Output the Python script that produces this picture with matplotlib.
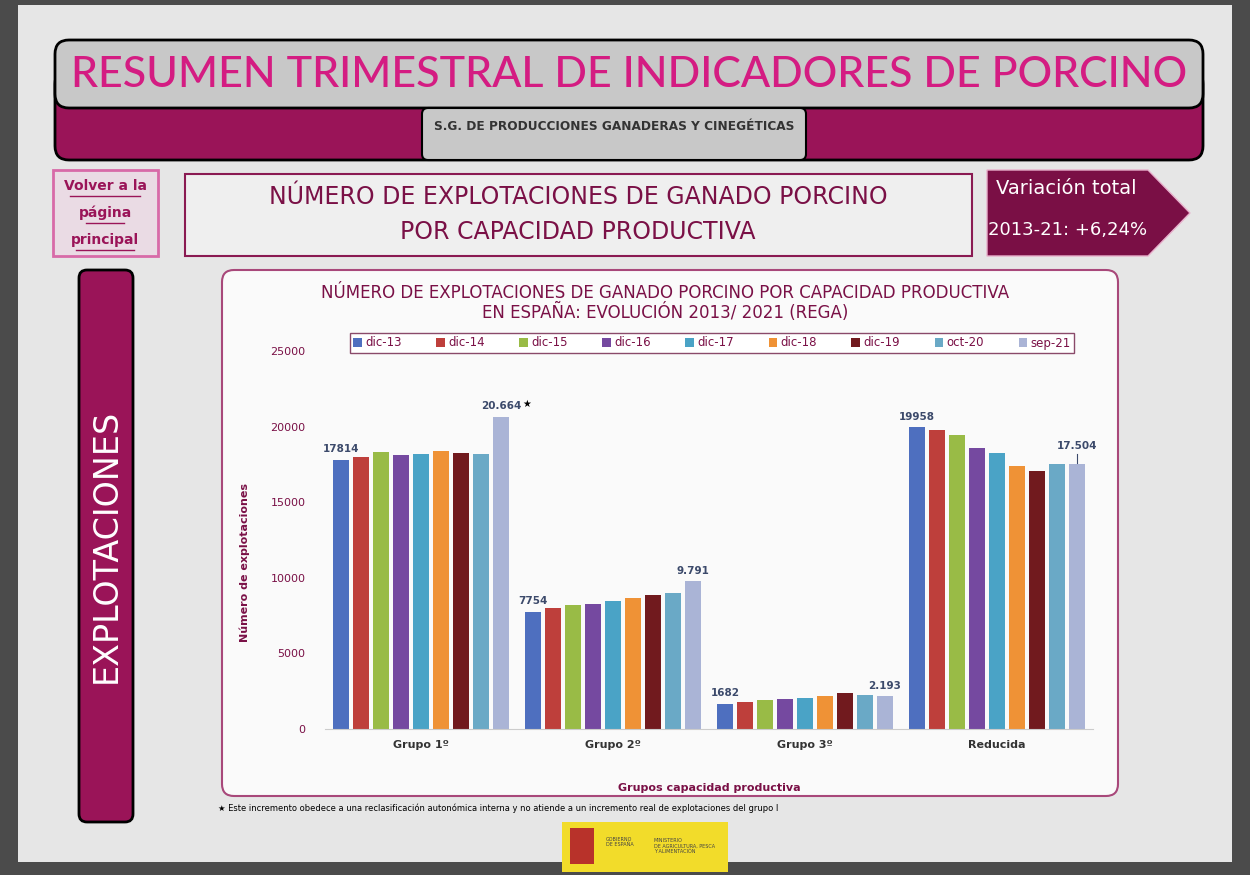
import numpy as np
import matplotlib.pyplot as plt
from matplotlib.patches import FancyBboxPatch, Rectangle, Polygon

groups = ["Grupo 1º", "Grupo 2º", "Grupo 3º", "Reducida"]
periods = ["dic-13", "dic-14", "dic-15", "dic-16", "dic-17", "dic-18", "dic-19", "oct-20", "sep-21"]
# explotaciones por grupo, una lista por periodo
dic13 = [17814, 7754, 1682, 19958]
dic14 = [18010, 7980, 1790, 19780]
dic15 = [18330, 8200, 1900, 19470]
dic16 = [18100, 8290, 1960, 18560]
dic17 = [18190, 8470, 2050, 18280]
dic18 = [18390, 8640, 2180, 17390]
dic19 = [18250, 8860, 2360, 17060]
oct20 = [18170, 8970, 2250, 17550]
sep21 = [20664, 9791, 2193, 17504]
series = [dic13, dic14, dic15, dic16, dic17, dic18, dic19, oct20, sep21]
colors = ["#4e6fbf", "#be3f3b", "#99bb46", "#7549a0", "#4aa3c6",
          "#ef9236", "#711a1e", "#6aa9c6", "#aab4d6"]
# etiquetas de valor: (periodo, grupo, texto)
value_labels = [(0, 0, "17814"), (8, 0, "20.664"), (0, 1, "7754"), (8, 1, "9.791"),
                (0, 2, "1682"), (8, 2, "2.193"), (0, 3, "19958"), (8, 3, "17.504")]

MAG = "#9a1458"
DMAG = "#7a1046"
PINK = "#d41c82"

fig = plt.figure(figsize=(12.5, 8.75), dpi=100)
fig.patch.set_facecolor("#4b4b4b")

# capa de fondo en pixeles
bg = fig.add_axes([0, 0, 1, 1], zorder=0)
bg.set_xlim(0, 1250)
bg.set_ylim(875, 0)
bg.axis("off")

def rbox(x0, y0, x1, y1, fc, ec, lw=1.5, r=10, z=1):
    p = FancyBboxPatch((x0, y0), x1 - x0, y1 - y0,
                       boxstyle="round,pad=0,rounding_size=%d" % r,
                       fc=fc, ec=ec, lw=lw, zorder=z)
    bg.add_patch(p)

bg.add_patch(Rectangle((18, 5), 1214, 857, fc="#e6e6e6", ec="none", zorder=0))

# cabecera
rbox(55, 70, 1203, 160, MAG, "black", lw=2, r=14)
rbox(55, 40, 1203, 108, "#c8c8c8", "black", lw=2, r=14, z=2)
rbox(422, 108, 806, 160, "#c8c8c8", "black", lw=1.5, r=6, z=3)
bg.text(629, 75, "RESUMEN TRIMESTRAL DE INDICADORES DE PORCINO", color=PINK,
        fontsize=31, ha="center", va="center", zorder=4, fontweight="medium",
        family=["Lato", "DejaVu Sans"])
bg.text(614, 126, "S.G. DE PRODUCCIONES GANADERAS Y CINEGÉTICAS", color="#333333",
        fontsize=8.7, fontweight="bold", ha="center", va="center", zorder=4)

# volver
bg.add_patch(Rectangle((53, 170), 105, 86, fc="#eadbe4", ec="#d86aa8", lw=2, zorder=1))
for yy, t in [(186, "Volver a la"), (213, "página"), (240, "principal")]:
    bg.text(105, yy, t, color=MAG, fontsize=10, fontweight="bold", ha="center",
            va="center", zorder=2)
    bg.plot([105 - len(t) * 3.2, 105 + len(t) * 3.2], [yy + 10, yy + 10], color=MAG, lw=1, zorder=2)

# titulo central
bg.add_patch(Rectangle((185, 174), 787, 82, fc="#efefef", ec="#8a1a52", lw=1.5, zorder=1))
bg.text(578, 197, "NÚMERO DE EXPLOTACIONES DE GANADO PORCINO", color=DMAG,
        fontsize=17, ha="center", va="center", zorder=2)
bg.text(578, 232, "POR CAPACIDAD PRODUCTIVA", color=DMAG,
        fontsize=17, ha="center", va="center", zorder=2)

# flecha variacion
bg.add_patch(Polygon([(987, 170), (1148, 170), (1190, 213), (1148, 256), (987, 256)],
                     closed=True, fc="#7a0f45", ec="#e8b0cc", lw=1, zorder=1))
bg.text(1066, 189, "Variación total", color="white", fontsize=14, ha="center", va="center",
        zorder=2)
bg.text(1068, 230, "2013-21: +6,24%", color="white", fontsize=13, ha="center", va="center",
        zorder=2)

# barra lateral
rbox(79, 270, 133, 822, MAG, "black", lw=2, r=8)
bg.text(106, 546, "EXPLOTACIONES", color="white", fontsize=24, rotation=90,
        ha="center", va="center", zorder=3)

# panel del grafico
rbox(222, 270, 1118, 796, "#fafafa", "#a8487a", lw=1.5, r=12)
bg.text(665, 293, "NÚMERO DE EXPLOTACIONES DE GANADO PORCINO POR CAPACIDAD PRODUCTIVA",
        color=DMAG, fontsize=12, ha="center", va="center", zorder=3)
bg.text(665, 312, "EN ESPAÑA: EVOLUCIÓN 2013/ 2021 (REGA)",
        color=DMAG, fontsize=12, ha="center", va="center", zorder=3)

# nota al pie
bg.text(218, 808, "★ Este incremento obedece a una reclasificación autonómica interna y no atiende a un incremento real de explotaciones del grupo I",
        color="black", fontsize=6, ha="left", va="center", zorder=3)

# logo
bg.add_patch(Rectangle((562, 822), 166, 50, fc="#f2dc2a", ec="none", zorder=1))
bg.add_patch(Rectangle((570, 828), 24, 36, fc="#b8322a", ec="none", zorder=2))
bg.text(606, 842, "GOBIERNO\nDE ESPAÑA", fontsize=3.5, color="#444444", va="center", zorder=3)
bg.text(654, 846, "MINISTERIO\nDE AGRICULTURA, PESCA\nY ALIMENTACIÓN", fontsize=3.5,
        color="#444444", va="center", zorder=3)

# grafico de barras
ax = fig.add_axes([325 / 1250, (875 - 729) / 875, (1093 - 325) / 1250, (729 - 351) / 875], zorder=2)
ax.patch.set_alpha(0)
x = np.arange(len(groups))
pitch = 0.104
width = 0.084
for i, (vals, c) in enumerate(zip(series, colors)):
    ax.bar(x + (i - 4) * pitch, vals, width, color=c, label=periods[i], zorder=2)

for i, g, t in value_labels:
    v = series[i][g]
    off = 350 if g != 3 or i != 8 else 900
    ax.text(x[g] + (i - 4) * pitch, v + off, t, color="#3c4a6b", fontsize=7.5,
            fontweight="bold", ha="center", va="bottom", zorder=3)
ax.text(x[0] + 4 * pitch + 0.135, sep21[0] + 500, "★", color="black", fontsize=7, ha="center", va="bottom")
ax.plot([x[3] + 4 * pitch] * 2, [sep21[3] + 80, sep21[3] + 700], color="#3c4a6b", lw=0.8)

ax.set_xlim(-0.5, 3.5)
ax.set_ylim(0, 25000)
ax.set_xticks(x)
ax.set_xticklabels(groups, color="#333333", fontsize=8, fontweight="bold")
ax.set_yticks(np.arange(0, 25001, 5000))
ax.tick_params(axis="y", length=0, labelcolor=DMAG, labelsize=8, pad=14)
ax.tick_params(axis="x", length=0, pad=8)
for s in ["top", "right", "left"]:
    ax.spines[s].set_visible(False)
ax.spines["bottom"].set_color("#cccccc")
ax.set_ylabel("Número de explotaciones", color=DMAG, fontsize=8, fontweight="bold")
ax.yaxis.set_label_coords(-0.098, 0.44)
ax.set_xlabel("Grupos capacidad productiva", color=DMAG, fontsize=8, fontweight="bold")
ax.xaxis.set_label_coords(0.5, -0.143)

leg = ax.legend(loc="center", ncol=9, bbox_to_anchor=(344 / 1250, (875 - 354) / 875, 736 / 1250, 22 / 875),
                bbox_transform=fig.transFigure, mode="expand", fontsize=8.5, fancybox=False,
                handlelength=0.7, handleheight=0.7, handletextpad=0.3, borderpad=0.3,
                columnspacing=1.0, edgecolor="#8a4a6a", framealpha=1)
for t in leg.get_texts():
    t.set_color(DMAG)

fig.savefig("out.png", dpi=100, facecolor=fig.get_facecolor())
